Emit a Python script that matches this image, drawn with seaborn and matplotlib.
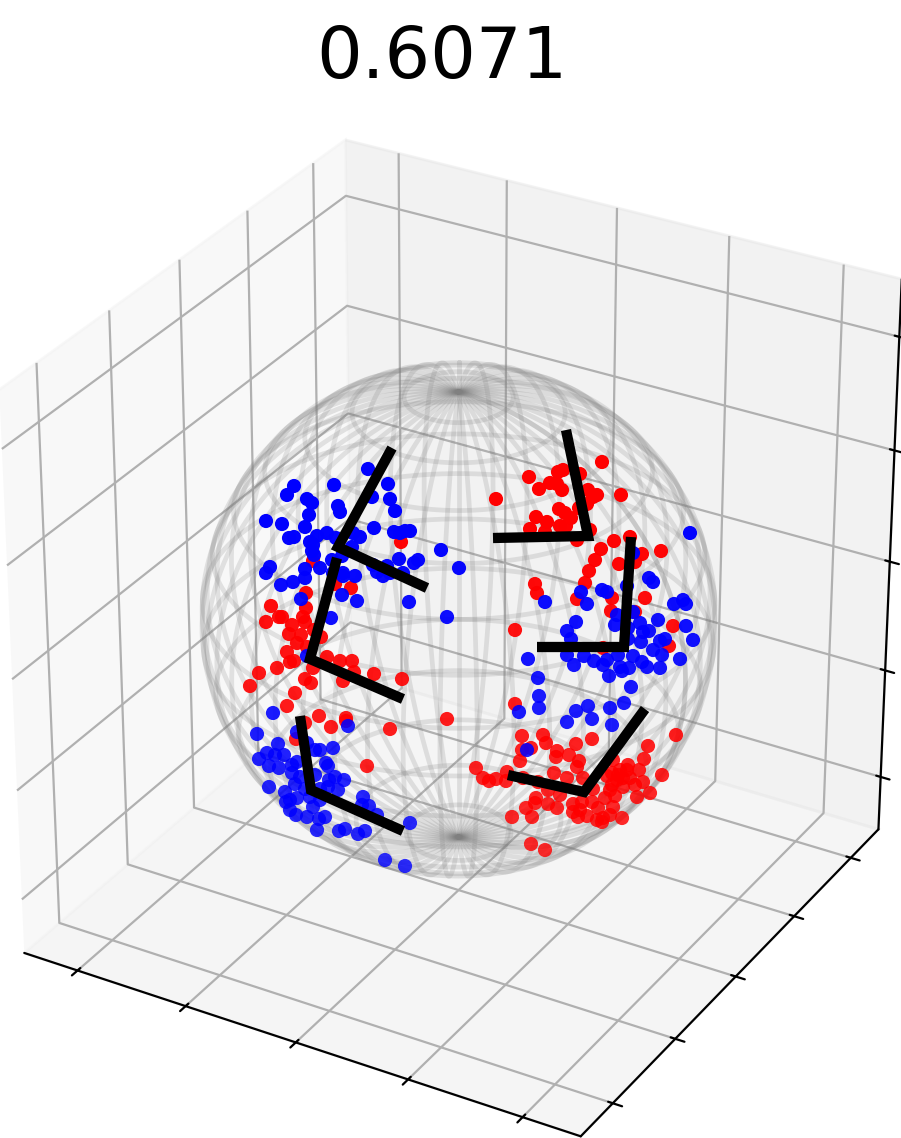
import numpy as np
import pandas as pd
import matplotlib
matplotlib.use("Agg")
import matplotlib.pyplot as plt
import seaborn as sns

title_text = "0.6071"
tick_values = [-1.0, -0.5, 0.0, 0.5, 1.0]
sphere_radius = 1.0

# points, as (across, up) from the sphere centre
red_points = [
    (-57, 78), (-145, 59), (-123, 36), (-107, 32),
    (-152, 27), (-187, 14), (-152, 12), (-155, 3), (-179, 3), (-176, 3), (-192, -2), (-153, -2),
    (-166, -5), (-144, -10), (-157, -15), (-169, -14), (-137, -17), (-161, -23), (-151, -27),
    (-171, -32), (-131, -37), (-164, -41), (-168, -42), (-118, -41), (-106, -41), (-181, -48),
    (-145, -48), (-104, -52), (-199, -53), (-84, -54), (-56, -59), (-208, -66), (-153, -59),
    (-147, -63), (-115, -61), (-163, -73), (-171, -86), (-139, -96), (-112, -98), (-112, -101),
    (-127, -107), (-68, -109), (-11, -99), (-153, -103), (-162, -119), (-91, -146),
    (71, 143), (81, 131), (38, 121), (144, 158), (105, 150), (100, 148), (122, 146), (92, 137),
    (99, 136), (104, 130), (130, 130), (139, 125), (135, 123), (163, 125), (129, 116), (121, 112),
    (101, 111), (107, 107), (113, 102), (78, 103), (89, 98), (102, 94), (108, 94), (72, 91),
    (87, 88), (132, 90), (119, 80), (156, 79), (172, 83), (143, 71), (184, 66), (203, 69),
    (137, 60), (161, 56), (177, 58), (131, 49), (127, 37), (77, 36), (79, 27),
    (119, 21), (154, 22), (187, 22), (153, 9), (177, 8), (215, -6), (57, -10), (211, -26),
    (145, -28), (57, -84),
    (64, -116), (85, -115), (134, -119), (118, -124), (218, -115), (190, -126), (88, -123),
    (73, -128), (64, -130), (99, -131), (111, -135), (98, -137), (186, -139), (121, -141),
    (155, -140), (62, -141), (119, -147), (170, -145), (18, -148), (49, -152), (96, -153),
    (181, -150), (204, -155), (25, -158), (31, -161), (38, -159), (48, -161), (109, -158),
    (125, -158), (162, -150), (149, -156), (165, -158), (159, -160), (172, -158), (154, -165),
    (165, -167), (185, -162), (177, -165), (135, -169), (90, -170), (102, -175), (78, -178),
    (192, -173), (77, -183), (179, -177), (157, -176), (147, -178), (90, -184), (99, -188),
    (115, -184), (124, -182), (134, -182), (68, -188), (54, -197), (74, -197), (140, -188),
    (155, -187), (115, -192), (122, -190), (120, -197), (129, -196), (152, -195), (145, -198),
    (139, -200), (144, -202), (164, -198), (73, -224), (87, -230), (152, -170), (160, -155),
    (169, -150), (154, -153), (80, -162), (65, -158),
]
blue_points = [
    (-90, 151), (-164, 134), (-171, 125), (-124, 135), (-70, 136), (-86, 123), (-68, 121),
    (-151, 121), (-146, 117), (-120, 114), (-118, 108), (-63, 109), (-149, 105), (-192, 99),
    (-176, 96), (-153, 93), (-84, 92), (-64, 88), (-58, 87), (-53, 89), (-48, 89), (-131, 87),
    (-141, 84), (-164, 83), (-169, 82), (-122, 82), (-98, 83), (-105, 87), (-148, 78), (-145, 75),
    (-146, 69), (-144, 65), (-106, 73), (-116, 64), (-126, 60), (-17, 70), (-59, 61), (-40, 60),
    (-44, 57), (1, 52), (-188, 53), (-192, 47), (-153, 51), (-138, 52), (-153, 42), (-165, 38),
    (-177, 35), (-115, 47), (-115, 44), (-125, 47), (-103, 44), (-85, 55), (-71, 54), (-81, 48),
    (-75, 44), (-68, 47), (-55, 47), (-157, 21), (-116, 25), (-101, 19), (-49, 18), (-11, 3),
    (-127, 2), (-151, -36),
    (-185, -93), (-110, -106), (-161, -112), (-201, -114), (-180, -124), (-151, -123), (-125, -128),
    (-143, -130), (-138, -130), (-191, -133), (-183, -135), (-174, -135), (-199, -139), (-189, -146),
    (-179, -148), (-161, -142), (-166, -145), (-132, -143), (-130, -146), (-166, -153), (-158, -157),
    (-143, -155), (-123, -157), (-114, -160), (-129, -160), (-163, -164), (-189, -167), (-138, -169),
    (-130, -167), (-120, -170), (-173, -172), (-153, -169), (-168, -180), (-161, -178), (-148, -177),
    (-138, -180), (-172, -182), (-95, -177), (-145, -187), (-89, -186), (-96, -185), (-168, -190),
    (-162, -195), (-151, -197), (-81, -195), (-133, -197), (-139, -199), (-141, -210), (-113, -209),
    (-119, -211), (-93, -211), (-100, -214), (-48, -203), (-73, -240), (-53, -246),
    (232, 87), (175, 67),
    (191, 42), (195, 38), (169, 34), (144, 30), (149, 28), (123, 28), (87, 18), (129, 16), (216, 16),
    (225, 20), (228, 16), (159, 5), (175, 8), (157, -5), (118, -2), (170, -8), (182, -3), (200, 0),
    (228, -6), (109, -11), (185, -12), (191, -11), (183, -22), (113, -19), (170, -19), (235, -20),
    (207, -19), (202, -21), (195, -30), (204, -35), (109, -35), (126, -36), (70, -39), (136, -41),
    (149, -40), (145, -45), (160, -35), (175, -36), (184, -42), (222, -39), (116, -45), (162, -47),
    (171, -48), (164, -51), (189, -47), (202, -48), (151, -56), (173, -67), (80, -58), (81, -76),
    (81, -88), (61, -92), (166, -83), (130, -86), (152, -88), (118, -91), (134, -99), (109, -102),
    (154, -105), (69, -130),
]
# each frame: arm end, corner, other arm end
frames = [
    [(-66, 172), (-120, 73), (-31, 32)],
    [(-121, 62), (-148, -39), (-55, -79)],
    [(-158, -96), (-147, -170), (-55, -211)],
    [(108, 190), (130, 84), (35, 82)],
    [(173, 83), (166, -27), (79, -27)],
    [(187, -89), (126, -172), (50, -155)],
]

sns.set_style("white", {
    "axes.edgecolor": "black", "xtick.color": "black", "ytick.color": "black",
    "text.color": "black", "grid.color": "#b0b0b0", "font.family": ["DejaVu Sans"],
})
plt.rcParams["grid.linewidth"] = 0.8
plt.rcParams["axes.linewidth"] = 0.8
plt.rcParams["xtick.major.width"] = 0.8
plt.rcParams["ytick.major.width"] = 0.8

W, H, DPI = 901, 1138, 200
fig = plt.figure(figsize=(W / DPI, H / DPI), dpi=DPI)

# 3d box and wire sphere
S, cx, cy = 1080, 444, 634
ax = fig.add_axes([(cx - S / 2) / W, 1 - (cy + S / 2) / H, S / W, S / H], projection="3d")
ax.view_init(elev=30, azim=-60)
ax.set_box_aspect((1, 1, 1))
ax.set_xlim(-1.25, 1.25)
ax.set_ylim(-1.25, 1.25)
ax.set_zlim(-1.25, 1.25)
ax.set_xticks(tick_values)
ax.set_yticks(tick_values)
ax.set_zticks(tick_values)
ax.set_xticklabels([])
ax.set_yticklabels([])
ax.set_zticklabels([])

lon = np.linspace(0, 2 * np.pi, 181)
lat = np.linspace(0, np.pi, 91)
xs = sphere_radius * np.outer(np.cos(lon), np.sin(lat))
ys = sphere_radius * np.outer(np.sin(lon), np.sin(lat))
zs = sphere_radius * np.outer(np.ones_like(lon), np.cos(lat))
ax.plot_wireframe(xs, ys, zs, rstride=4, cstride=6, color="gray", alpha=0.2, linewidth=1.7)

# flat overlay in disc units for the points and frames
top = fig.add_axes([0, 0, 1, 1])
top.patch.set_alpha(0)
top.set_axis_off()

df = pd.DataFrame(red_points + blue_points, columns=["u", "v"])
df["group"] = ["red"] * len(red_points) + ["blue"] * len(blue_points)
# lower points sit further back in the reference and look a little paler
shade = list(np.interp(df["v"], [-250, 100], [0.8, 1.0]))
sns.scatterplot(data=df, x="u", y="v", hue="group", palette={"red": "red", "blue": "blue"},
                s=26, alpha=shade, linewidth=0, legend=False, ax=top)

rows = [(i, u, v) for i, fr in enumerate(frames) for u, v in fr]
lines = pd.DataFrame(rows, columns=["frame", "u", "v"])
sns.lineplot(data=lines, x="u", y="v", units="frame", estimator=None, sort=False, color="black",
             linewidth=3.7, solid_capstyle="butt", solid_joinstyle="miter", legend=False, ax=top)

top.set_xlim(-458, W - 458)
top.set_ylim(620 - H, 620)
top.set_axis_off()

fig.text(442 / W, 1 - 78 / H, title_text, fontsize=25.9, ha="center", va="baseline")
fig.savefig("out.png", dpi=DPI)
